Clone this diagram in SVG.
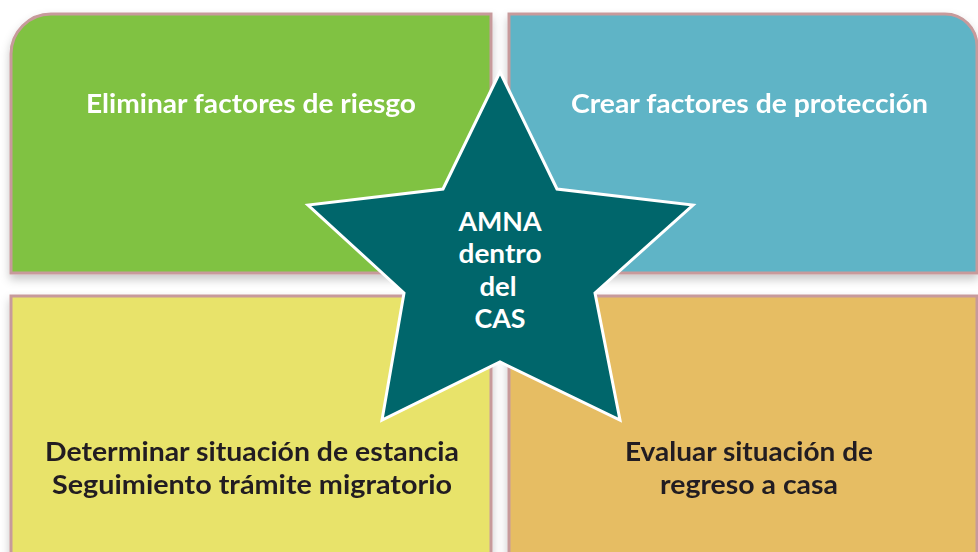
<svg xmlns="http://www.w3.org/2000/svg" width="978" height="552" viewBox="0 0 978 552">
<defs>
<style>
.box{stroke:#c79a9b;stroke-width:3}
.lbl{font-family:Lato,"Open Sans","Liberation Sans",sans-serif;font-weight:700;font-size:27.5px;text-anchor:middle}
.w{fill:#ffffff}
.d{fill:#231f20}
.star{fill:#00666b;stroke:#ffffff;stroke-width:3;stroke-linejoin:miter}
</style>
<filter id="sh" x="-10%" y="-10%" width="120%" height="130%">
<feDropShadow dx="0" dy="5" stdDeviation="5" flood-color="#000000" flood-opacity="0.22"/>
</filter>
</defs>
<rect width="978" height="552" fill="#ffffff"/>
<g id="box-eliminar" filter="url(#sh)">
<path class="box" fill="#80c242" d="M11,273 V54 A40,40 0 0 1 51,14 H491 V273 Z"/>
<text class="lbl w" x="251" y="113" textLength="330" lengthAdjust="spacingAndGlyphs">Eliminar factores de riesgo</text>
</g>
<g id="box-crear" filter="url(#sh)">
<path class="box" fill="#5eb4c6" d="M509,273 V14 H945 A32,32 0 0 1 977,46 V273 Z"/>
<text class="lbl w" x="749.5" y="113" textLength="357" lengthAdjust="spacingAndGlyphs">Crear factores de protección</text>
</g>
<g id="box-determinar" filter="url(#sh)">
<path class="box" fill="#e8e36b" d="M11,560 V296 H491 V560 Z"/>
<text class="lbl d" x="252" y="461" textLength="414" lengthAdjust="spacingAndGlyphs">Determinar situación de estancia</text>
<text class="lbl d" x="252" y="494" textLength="400" lengthAdjust="spacingAndGlyphs">Seguimiento trámite migratorio</text>
</g>
<g id="box-evaluar" filter="url(#sh)">
<path class="box" fill="#e6bd64" d="M509,560 V296 H977 V560 Z"/>
<text class="lbl d" x="749" y="461" textLength="248" lengthAdjust="spacingAndGlyphs">Evaluar situación de</text>
<text class="lbl d" x="749" y="494" textLength="178" lengthAdjust="spacingAndGlyphs">regreso a casa</text>
</g>
<g id="star-amna">
<polygon class="star" points="500,72 557,189 693,205 595,293 620,420 500,362 382,420 404,293 308,205 443,189"/>
<text class="lbl w" x="500" y="231" textLength="83" lengthAdjust="spacingAndGlyphs">AMNA</text>
<text class="lbl w" x="500" y="263" textLength="83" lengthAdjust="spacingAndGlyphs">dentro</text>
<text class="lbl w" x="498" y="296">del</text>
<text class="lbl w" x="500" y="328" textLength="51" lengthAdjust="spacingAndGlyphs">CAS</text>
</g>
<g id="connectors"/>
</svg>
